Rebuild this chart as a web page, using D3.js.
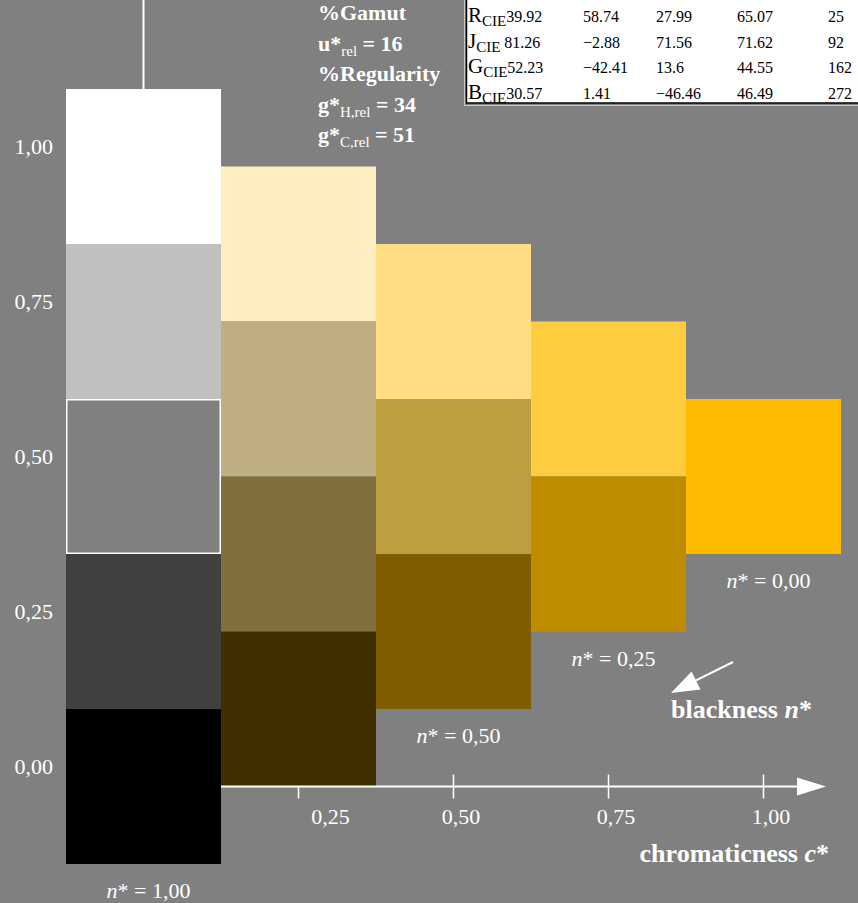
<!DOCTYPE html>
<html>
<head>
<meta charset="utf-8">
<script src="https://cdn.jsdelivr.net/npm/d3@7"></script>
<style>
  body { margin: 0; background: #808080; }
  svg { display: block; font-family: "Liberation Serif", "Times New Roman", serif; }
</style>
</head>
<body>
<script>
// chromaticness c* of each column, and the blackness n* steps inside each column
var cStar = [0, 0.25, 0.5, 0.75, 1];
var nStar = [
  [0, 0.25, 0.5, 0.75, 1],
  [0, 0.25, 0.5, 0.75],
  [0, 0.25, 0.5],
  [0, 0.25],
  [0]
];
var cellColors = [
  ["#ffffff", "#c0c0c0", "#808080", "#404040", "#000000"],
  ["#ffeebf", "#bfae80", "#807040", "#403000"],
  ["#ffdd80", "#bf9e40", "#805e00"],
  ["#ffcc40", "#bf8c00"],
  ["#ffbb00"]
];

var yTicks = [0, 0.25, 0.5, 0.75, 1];
var yTickLabels = ["0,00", "0,25", "0,50", "0,75", "1,00"];
var xTicks = [0.25, 0.5, 0.75, 1];
var xTickLabels = ["0,25", "0,50", "0,75", "1,00"];

// n* labels under the lowest cell of a column
var nLabelCols = [4, 3, 2, 0];
var nLabelText = ["0,00", "0,25", "0,50", "1,00"];

// colour data table (top right)
var tableRows = ["R", "J", "G", "B"];
var tableValues = [
  ["39.92", "58.74", "27.99", "65.07", "25"],
  ["81.26", "\u22122.88", "71.56", "71.62", "92"],
  ["52.23", "\u221242.41", "13.6", "44.55", "162"],
  ["30.57", "1.41", "\u221246.46", "46.49", "272"]
];

// metric lines (top)
var metricText = [
  {main: "%Gamut"},
  {main: "u*", sub: "rel", rest: " = 16"},
  {main: "%Regularity"},
  {main: "g*", sub: "H,rel", rest: " = 34"},
  {main: "g*", sub: "C,rel", rest: " = 51"}
];

var width = 858, height = 903;

var svg = d3.select("body").append("svg")
    .attr("width", width)
    .attr("height", height);

svg.append("rect")
    .attr("width", width)
    .attr("height", height)
    .style("fill", "#808080");

var x = d3.scaleLinear().domain([0, 1]).range([143.5, 763.5]);
// vertical position of a cell: v = 1 - n* - c*/2
var y = d3.scaleLinear().domain([0, 1]).range([786.5, 166.5]);
var step = x(0.25) - x(0);

var cells = [];
cStar.forEach((c, i) => {
  nStar[i].forEach((n, j) => {
    cells.push({c: c, n: n, v: 1 - n - c / 2, color: cellColors[i][j]});
  });
});

svg.append("g").selectAll("rect")
    .data(cells)
  .enter().append("rect")
    .attr("x", d => x(d.c) - step / 2)
    .attr("y", d => y(d.v) - step / 2)
    .attr("width", step)
    .attr("height", step)
    .style("fill", d => d.color);

// white outline round the mid grey
var mid = cells.filter(d => d.c == 0 && d.n == 0.5)[0];
svg.append("rect")
    .attr("x", x(mid.c) - step / 2 + 0.75)
    .attr("y", y(mid.v) - step / 2 + 0.75)
    .attr("width", step - 1.5)
    .attr("height", step - 1.5)
    .style("fill", "none")
    .style("stroke", "#fff")
    .style("stroke-width", 1.5);

// vertical axis stub above the white cell
svg.append("line")
    .attr("x1", x(0)).attr("x2", x(0))
    .attr("y1", 0).attr("y2", y(1) - step / 2)
    .style("stroke", "#fff")
    .style("stroke-width", 2);

// y tick labels
svg.append("g").selectAll("text")
    .data(yTicks)
  .enter().append("text")
    .attr("x", 53)
    .attr("y", d => y(d) - 12.5)
    .attr("text-anchor", "end")
    .style("font-size", "22px")
    .style("fill", "#fff")
    .text((d, i) => yTickLabels[i]);

// x axis with arrow
var axisY = y(0);
svg.append("line")
    .attr("x1", x(0.125)).attr("x2", 798)
    .attr("y1", axisY).attr("y2", axisY)
    .style("stroke", "#fff")
    .style("stroke-width", 2);
svg.append("path")
    .attr("d", "M797," + (axisY - 9) + "L826," + axisY + "L797," + (axisY + 9) + "Z")
    .style("fill", "#fff");

svg.append("g").selectAll("line")
    .data(xTicks)
  .enter().append("line")
    .attr("x1", d => x(d)).attr("x2", d => x(d))
    .attr("y1", (d, i) => i == 0 ? axisY : axisY - 12)
    .attr("y2", axisY + 12)
    .style("stroke", "#fff")
    .style("stroke-width", 1.5);

svg.append("g").selectAll("text")
    .data(xTicks)
  .enter().append("text")
    .attr("x", (d, i) => x(d) + (i == 0 ? 32 : 7.5))
    .attr("y", axisY + 37)
    .attr("text-anchor", "middle")
    .style("font-size", "22px")
    .style("fill", "#fff")
    .text((d, i) => xTickLabels[i]);

var cTitle = svg.append("text")
    .attr("x", 829)
    .attr("y", 862)
    .attr("text-anchor", "end")
    .style("font-size", "26px")
    .style("font-weight", "bold")
    .style("fill", "#fff");
cTitle.append("tspan").text("chromaticness ");
cTitle.append("tspan").style("font-style", "italic").text("c");
cTitle.append("tspan").text("*");

// n* labels
nLabelCols.forEach((col, i) => {
  var nLow = nStar[col][nStar[col].length - 1];
  var bottom = y(1 - nLow - cStar[col] / 2) + step / 2;
  var t = svg.append("text")
      .attr("x", x(cStar[col]) + 5)
      .attr("y", bottom + 34)
      .attr("text-anchor", "middle")
      .style("font-size", "22px")
      .style("fill", "#fff");
  t.append("tspan").style("font-style", "italic").text("n");
  t.append("tspan").text("* = " + nLabelText[i]);
});

// blackness arrow
var a0 = [733, 662], a1 = [671, 693];
var dx = a1[0] - a0[0], dy = a1[1] - a0[1], len = Math.sqrt(dx * dx + dy * dy);
var ux = dx / len, uy = dy / len, headLen = 28, headW = 10;
var bx = a1[0] - ux * headLen, by = a1[1] - uy * headLen;
svg.append("line")
    .attr("x1", a0[0]).attr("y1", a0[1])
    .attr("x2", bx).attr("y2", by)
    .style("stroke", "#fff")
    .style("stroke-width", 2);
svg.append("path")
    .attr("d", "M" + a1[0] + "," + a1[1] +
      "L" + (bx - uy * headW) + "," + (by + ux * headW) +
      "L" + (bx + uy * headW) + "," + (by - ux * headW) + "Z")
    .style("fill", "#fff");

var nTitle = svg.append("text")
    .attr("x", 671)
    .attr("y", 718)
    .style("font-size", "26px")
    .style("font-weight", "bold")
    .style("fill", "#fff");
nTitle.append("tspan").text("blackness ");
nTitle.append("tspan").style("font-style", "italic").text("n");
nTitle.append("tspan").text("*");

// metrics block
metricText.forEach((m, i) => {
  var t = svg.append("text")
      .attr("x", 318)
      .attr("y", 20 + i * 30.5)
      .style("font-size", "22px")
      .style("font-weight", "bold")
      .style("fill", "#fff");
  t.append("tspan").text(m.main);
  if (m.sub) {
    t.append("tspan").attr("dy", 5).style("font-size", "15px").style("font-weight", "normal").text(m.sub);
    t.append("tspan").attr("dy", -5).text(m.rest);
  }
});

// data table
var table = svg.append("g");
table.append("rect")
    .attr("x", 464.5).attr("y", -20)
    .attr("width", 420).attr("height", 125.5)
    .style("fill", "none")
    .style("stroke", "#c8c8c8")
    .style("stroke-width", 1);
table.append("rect")
    .attr("x", 466.5).attr("y", -20)
    .attr("width", 420).attr("height", 123)
    .style("fill", "#fff")
    .style("stroke", "#000")
    .style("stroke-width", 1.5);

var colX = [null, 583, 656, 737, 828];
tableRows.forEach((r, i) => {
  var base = 22 + i * 25.6;
  var t = table.append("text")
      .attr("x", 468)
      .attr("y", base)
      .style("fill", "#000");
  t.append("tspan").style("font-size", "21px").text(r);
  t.append("tspan").attr("dy", 4).style("font-size", "15px").text("CIE");
  t.append("tspan").attr("dy", -4).style("font-size", "16px")
      .text((r == "J" ? " " : "") + tableValues[i][0]);
  tableValues[i].slice(1).forEach((v, j) => {
    table.append("text")
        .attr("x", colX[j + 1])
        .attr("y", base)
        .style("font-size", "16px")
        .style("fill", "#000")
        .text(v);
  });
});
</script>
</body>
</html>
